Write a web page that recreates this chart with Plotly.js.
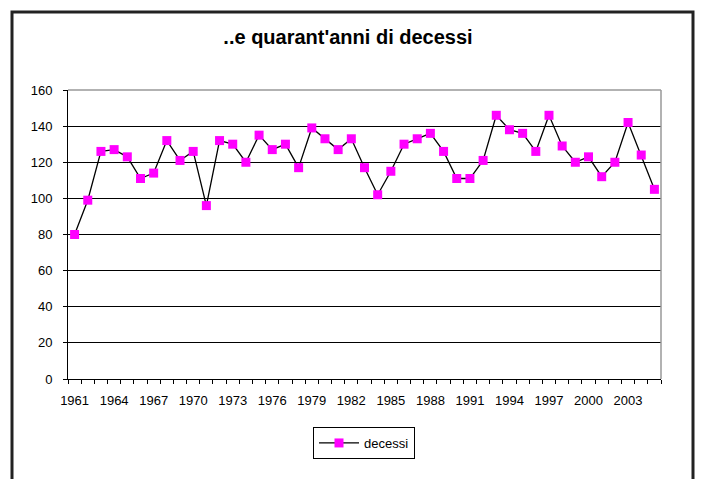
<!DOCTYPE html>
<html>
<head>
<meta charset="utf-8">
<script src="https://cdn.plot.ly/plotly-3.0.1.min.js"></script>
<style>html,body{margin:0;padding:0;background:#fff;}#chart{width:701px;height:479px;}</style>
</head>
<body>
<div id="chart"></div>
<script>
var years = [1961,1962,1963,1964,1965,1966,1967,1968,1969,1970,
             1971,1972,1973,1974,1975,1976,1977,1978,1979,1980,
             1981,1982,1983,1984,1985,1986,1987,1988,1989,1990,
             1991,1992,1993,1994,1995,1996,1997,1998,1999,2000,
             2001,2002,2003,2004,2005];
var decessi = [80,99,126,127,123,111,114,132,121,126,
               96,132,130,120,135,127,130,117,139,133,
               127,133,117,102,115,130,133,136,126,111,
               111,121,146,138,136,126,146,129,120,123,
               112,120,142,124,105];
var tickYears = [1961,1964,1967,1970,1973,1976,1979,1982,1985,1988,1991,1994,1997,2000,2003];
var tickLabels = tickYears.map(String);
var yTicks = [0,20,40,60,80,100,120,140,160];

var boundaries = [];
for (var i = 0; i <= years.length; i++) boundaries.push(years[0] - 0.5 + i);

var FONT = 'Arial, "Liberation Sans", sans-serif';
var xr = [years[0] - 0.5, years[years.length - 1] + 0.5];

var traces = [
  {
    x: years, y: decessi, type: 'scatter', mode: 'lines+markers', name: 'decessi',
    line: {color: '#000000', width: 1.3},
    marker: {symbol: 'square', size: 9, color: '#FF00FF', line: {width: 0}},
    xaxis: 'x', yaxis: 'y'
  },
  {
    x: [xr[0]], y: [0], type: 'scatter', mode: 'markers', showlegend: false,
    marker: {opacity: 0}, hoverinfo: 'skip', xaxis: 'x2', yaxis: 'y'
  }
];

var layout = {
  width: 701, height: 479,
  margin: {l: 68, r: 40, t: 90, b: 100},
  paper_bgcolor: '#ffffff', plot_bgcolor: '#ffffff',
  font: {family: FONT, size: 13, color: '#000000'},
  title: {text: "..e quarant'anni di decessi", font: {family: FONT, size: 20, color: '#000', weight: 'bold'},
          x: 348/701, xref: 'container', y: 1 - 37/479, yref: 'container', xanchor: 'center', yanchor: 'middle'},
  showlegend: true,
  legend: {
    orientation: 'h', x: (364 - 68) / 593, xanchor: 'center', y: (379 - 443) / 289, yanchor: 'middle',
    bordercolor: '#000', borderwidth: 1, bgcolor: '#fff', itemwidth: 40,
    font: {family: FONT, size: 13, color: '#000'}
  },
  xaxis: {
    range: xr, tickmode: 'array', tickvals: tickYears, ticktext: tickLabels,
    ticks: '', showgrid: false, zeroline: false, ticklabelstandoff: 9,
    showline: true, linecolor: '#000', linewidth: 1,
    tickfont: {family: FONT, size: 13, color: '#000'}, fixedrange: true
  },
  xaxis2: {
    range: xr, overlaying: 'x', side: 'bottom', anchor: 'y',
    tickmode: 'array', tickvals: boundaries, showticklabels: false,
    ticks: 'outside', ticklen: 4, tickcolor: '#000', tickwidth: 1,
    showgrid: false, zeroline: false, showline: false
  },
  yaxis: {
    range: [0, 160], tickmode: 'array', tickvals: yTicks,
    ticks: 'outside', ticklen: 4, tickcolor: '#000', ticklabelstandoff: 8,
    showgrid: true, gridcolor: '#000', gridwidth: 1, zeroline: false,
    showline: true, linecolor: '#000', linewidth: 1,
    tickfont: {family: FONT, size: 13, color: '#000'}, fixedrange: true
  },
  shapes: [
    {type: 'line', xref: 'paper', yref: 'paper', x0: 0, x1: 1, y0: 1, y1: 1, line: {color: '#999', width: 1.5}},
    {type: 'line', xref: 'paper', yref: 'paper', x0: 1, x1: 1, y0: 0, y1: 1, line: {color: '#999', width: 1.5}},
    {type: 'rect', xref: 'paper', yref: 'paper',
     x0: (12 - 68) / 593, x1: (693 - 68) / 593,
     y0: (379 - 490) / 289, y1: (379 - 12) / 289,
     line: {color: '#222', width: 3}, fillcolor: 'rgba(0,0,0,0)', layer: 'below'}
  ]
};

Plotly.newPlot('chart', traces, layout, {displayModeBar: false, staticPlot: true});
</script>
</body>
</html>
